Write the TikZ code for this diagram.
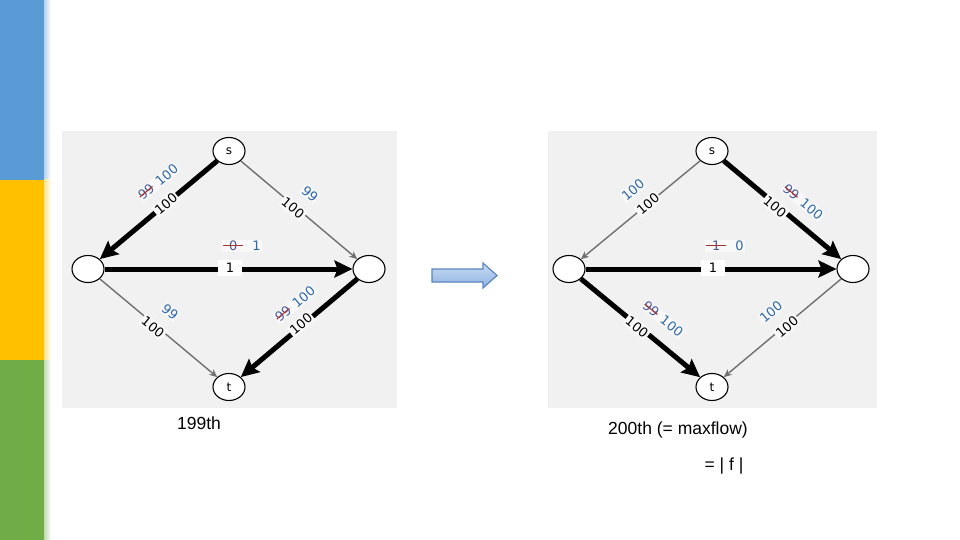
\documentclass[tikz,border=0pt]{standalone}
\usepackage{fontspec}
\setmainfont{Liberation Sans}
\newfontfamily\glabel{DejaVu Sans}
\usetikzlibrary{arrows.meta,shapes.geometric}
\definecolor{barblue}{HTML}{5B9BD5}
\definecolor{baryellow}{HTML}{FFC000}
\definecolor{bargreen}{HTML}{70AD47}
\definecolor{panel}{HTML}{F1F1F1}
\definecolor{labelbg}{HTML}{F8F8F8}
\definecolor{edgegray}{HTML}{707070}
\definecolor{labelblue}{HTML}{2F68A8}
\definecolor{strikered}{HTML}{A83232}
\definecolor{struckblue}{HTML}{4A5A9A}
\definecolor{arrowtop}{HTML}{C9DCF3}
\definecolor{arrowbot}{HTML}{8EB2E2}
\definecolor{arrowline}{HTML}{5A86C0}
\newcommand\lbl{\glabel\fontsize{13}{15}\selectfont}
\newcommand\strk[1]{{\setbox0\hbox{\textcolor{struckblue}{#1}}\copy0\llap{\textcolor{strikered}{\rule[0.33em]{\wd0}{0.08em}}}}}
\newcommand\strkw[1]{{\setbox0\hbox{\kern0.45em\textcolor{struckblue}{#1}\kern0.45em}\copy0\llap{\textcolor{strikered}{\rule[0.33em]{\wd0}{0.08em}}}}}
\begin{document}
\begin{tikzpicture}[x=1pt,y=-1pt,
  vtx/.style={ellipse, draw=black, line width=1.1pt, fill=white, minimum width=32pt, minimum height=27pt, inner sep=0pt, font=\glabel\fontsize{12}{14}\selectfont},
  flow/.style={line width=5pt, draw=black, -{Stealth[length=18pt,width=17pt,inset=3pt]}},
  resid/.style={line width=1.4pt, draw=edgegray, -{Stealth[length=8pt,width=7pt]}},
  caplbl/.style={font=\lbl, fill=labelbg, inner sep=1.5pt, text=black},
  capbox/.style={font=\lbl, fill=white, inner xsep=8pt, inner ysep=3pt, text=black},
  flw/.style={font=\lbl, fill=labelbg, inner sep=1pt, text=labelblue},
  bottomtext/.style={font=\fontsize{17.5}{20}\selectfont, text=black, inner sep=0pt}]
\useasboundingbox (0,0) rectangle (960,540);
\fill[white] (0,0) rectangle (960,540);
% side bar
\fill[barblue] (0,0) rectangle (44,180);
\fill[baryellow] (0,180) rectangle (44,360);
\fill[bargreen] (0,360) rectangle (44,540);
\shade[left color=barblue!45, right color=white] (44,0) rectangle (51,180);
\shade[left color=baryellow!45, right color=white] (44,180) rectangle (51,360);
\shade[left color=bargreen!45, right color=white] (44,360) rectangle (51,540);
% panels
\fill[panel] (62,131) rectangle (397,408);
\fill[panel] (548,131) rectangle (877,408);
% left graph
\node[vtx] (Ls) at (229,151) {s};
\node[vtx] (La) at (88,269) {};
\node[vtx] (Lb) at (369,269) {};
\node[vtx] (Lt) at (229,387) {t};
\draw[flow] (Ls) -- (La);
\draw[resid] (Ls) -- (Lb);
\draw[flow] (La) -- (Lb);
\draw[resid] (La) -- (Lt);
\draw[flow] (Lb) -- (Lt);
\node[caplbl, rotate=40] (Lc1) at (166,204) {100};
\node[caplbl, rotate=-40] (Lc2) at (293,208) {100};
\node[capbox] (Lc3) at (230,268) {1};
\node[caplbl, rotate=-39] (Lc4) at (153,327) {100};
\node[caplbl, rotate=40] (Lc5) at (301,324) {100};
\node[flw, rotate=40] (Lf1) at (158,182) {\strk{99}\hspace{6pt}100};
\node[flw, rotate=-40] (Lf2) at (310,194) {99};
\node[flw] (Lf3) at (242,246) {\strkw{0}\hspace{9pt}1};
\node[flw, rotate=-39] (Lf4) at (170,312) {99};
\node[flw, rotate=40] (Lf5) at (295,304) {\strk{99}\hspace{6pt}100};
% right graph
\node[vtx] (Rs) at (712,151) {s};
\node[vtx] (Ra) at (569,269) {};
\node[vtx] (Rb) at (853,269) {};
\node[vtx] (Rt) at (712,387) {t};
\draw[resid] (Rs) -- (Ra);
\draw[flow] (Rs) -- (Rb);
\draw[flow] (Ra) -- (Rb);
\draw[flow] (Ra) -- (Rt);
\draw[resid] (Rb) -- (Rt);
\node[caplbl, rotate=40] (Rc1) at (648,204) {100};
\node[caplbl, rotate=-40] (Rc2) at (775,207) {100};
\node[capbox] (Rc3) at (713,268) {1};
\node[caplbl, rotate=-39] (Rc4) at (637,327) {100};
\node[caplbl, rotate=40] (Rc5) at (787,327) {100};
\node[flw, rotate=40] (Rf1) at (633,190) {100};
\node[flw, rotate=-40] (Rf2) at (803,202) {\strk{99}\hspace{6pt}100};
\node[flw] (Rf3) at (725,246) {\strkw{1}\hspace{9pt}0};
\node[flw, rotate=-39] (Rf4) at (663,319) {\strk{99}\hspace{6pt}100};
\node[flw, rotate=40] (Rf5) at (771,312) {100};
% block arrow
\shade[top color=arrowtop, bottom color=arrowbot, draw=arrowline, line width=1.2pt]
  (432,269) -- (483,269) -- (483,263) -- (497,275.5) -- (483,288) -- (483,282) -- (432,282) -- cycle;
% bottom texts
\node[bottomtext] (t199) at (199,423) {199th};
\node[bottomtext] (t200) at (678,430) {200th (= maxflow)};
\node[bottomtext] (tf) at (724,466) {= | f |};
\end{tikzpicture}
\end{document}
